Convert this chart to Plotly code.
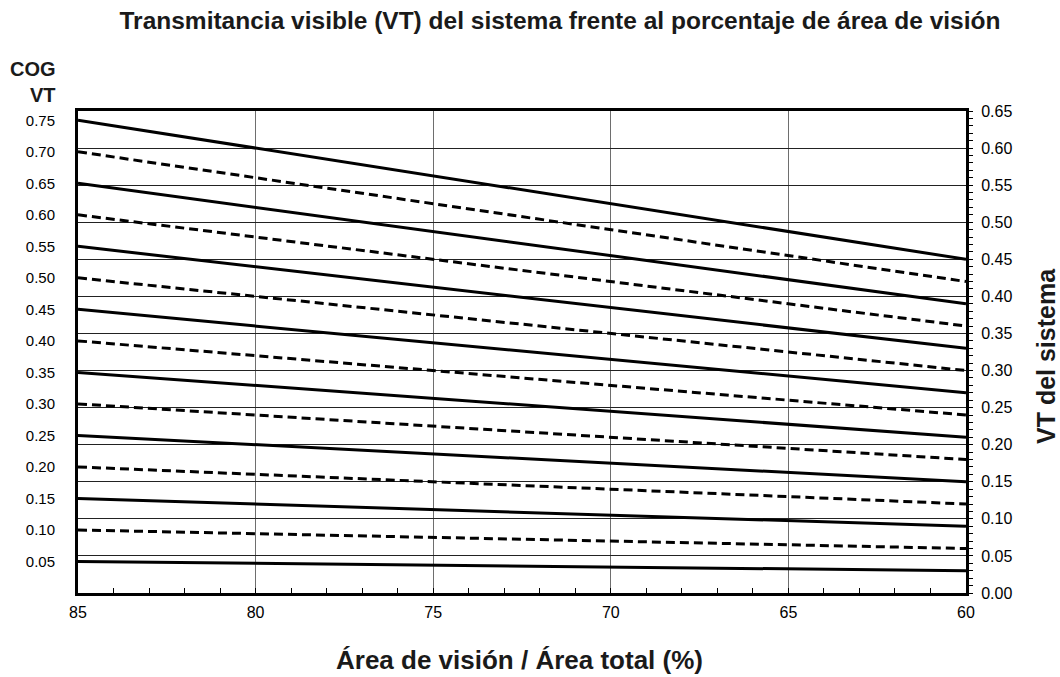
import plotly.graph_objects as go

# Area de vision / area total (%) - endpoints of each straight line
x_pts = [85, 60]
# COG VT of each line (left axis labels)
cog_vt = [0.75, 0.70, 0.65, 0.60, 0.55, 0.50, 0.45, 0.40, 0.35, 0.30, 0.25, 0.20, 0.15, 0.10, 0.05]
# VT del sistema read at x=85 and x=60 for each line
vt_at_85 = [0.6375, 0.595, 0.5525, 0.51, 0.4675, 0.425, 0.3825, 0.34, 0.2975, 0.255, 0.2125, 0.17, 0.1275, 0.085, 0.0425]
vt_at_60 = [0.45, 0.42, 0.39, 0.36, 0.33, 0.30, 0.27, 0.24, 0.21, 0.18, 0.15, 0.12, 0.09, 0.06, 0.03]
line_dash = ["solid", "dash"] * 7 + ["solid"]

x_ticks = [85, 80, 75, 70, 65, 60]
left_ticks = [0.75, 0.70, 0.65, 0.60, 0.55, 0.50, 0.45, 0.40, 0.35, 0.30, 0.25, 0.20, 0.15, 0.10, 0.05]
right_ticks = [0.65, 0.60, 0.55, 0.50, 0.45, 0.40, 0.35, 0.30, 0.25, 0.20, 0.15, 0.10, 0.05, 0.00]

FONT = "Liberation Sans, Arial, sans-serif"
W, H = 1060, 677
L, R, T, B = 78, 94, 111, 84
PW, PH = W - L - R, H - T - B

fig = go.Figure()
for c, a, b, d in zip(cog_vt, vt_at_85, vt_at_60, line_dash):
    fig.add_trace(go.Scatter(
        x=x_pts, y=[a, b], mode="lines", yaxis="y2",
        line=dict(color="black", width=3, dash="9px,5px" if d == "dash" else "solid"),
        name=f"COG VT {c:.2f}", showlegend=False, hoverinfo="skip"))
# invisible trace so the left (COG VT) axis is drawn
fig.add_trace(go.Scatter(x=[85], y=[0.05], mode="markers", marker=dict(opacity=0),
                         showlegend=False, hoverinfo="skip", yaxis="y"))

fig.update_layout(
    width=W, height=H,
    margin=dict(l=L, r=R, t=T, b=B),
    paper_bgcolor="white", plot_bgcolor="white",
    font=dict(family=FONT, color="black", size=15),
    title=dict(text="<b>Transmitancia visible (VT) del sistema frente al porcentaje de área de visión</b>",
               x=560 / W, xanchor="center", y=1 - 20 / H, yanchor="middle",
               font=dict(size=24.5, family=FONT, color="#1a1a1a")),
    xaxis=dict(range=[85, 60], tickvals=x_ticks, ticktext=[str(v) for v in x_ticks],
               showgrid=True, gridcolor="#6e6e6e", gridwidth=1,
               showline=True, linecolor="black", linewidth=3, mirror=True,
               ticks="inside", ticklen=5, tickcolor="black", tickwidth=1,
               minor=dict(dtick=1, ticks="inside", ticklen=5, tickcolor="black", tickwidth=1, showgrid=False),
               tickfont=dict(size=16), zeroline=False, ticklabelstandoff=3),
    yaxis=dict(range=[0, 0.65 / 0.85], tickvals=left_ticks, ticktext=[f"{v:.2f}" for v in left_ticks],
               showgrid=False, zeroline=False,
               showline=True, linecolor="black", linewidth=3, mirror=True,
               ticks="", tickfont=dict(size=15), ticklabelstandoff=17),
    yaxis2=dict(range=[0, 0.65], overlaying="y", side="right",
                tickvals=right_ticks, ticktext=[f"{v:.2f}" for v in right_ticks],
                showgrid=True, gridcolor="#222222", gridwidth=1, zeroline=False,
                showline=True, linecolor="black", linewidth=3,
                ticks="outside", ticklen=4, tickcolor="black", tickwidth=1,
                minor=dict(dtick=0.01, tick0=0, ticks="outside", ticklen=4, tickcolor="black", tickwidth=1, showgrid=False),
                tickfont=dict(size=16), ticklabelstandoff=5),
)

fig.add_annotation(text="<b>COG<br>VT</b>", xref="paper", yref="paper",
                   x=-(L - 58) / PW, y=1 + (T - 56) / PH, xanchor="right", yanchor="top",
                   align="right", showarrow=False, font=dict(size=20, family=FONT, color="#1a1a1a"))
fig.add_annotation(text="<b>Área de visión / Área total (%)</b>", xref="paper", yref="paper",
                   x=(519 - L) / PW, y=-(660 - (T + PH)) / PH, xanchor="center", yanchor="middle",
                   showarrow=False, font=dict(size=26, family=FONT, color="#1a1a1a"))
fig.add_annotation(text="<b>VT del sistema</b>", xref="paper", yref="paper",
                   x=1 + (1046 - (L + PW)) / PW, y=((T + PH) - 356) / PH, xanchor="center", yanchor="middle",
                   textangle=-90, showarrow=False, font=dict(size=25, family=FONT, color="#1a1a1a"))

fig.write_html("out.html", config={"displayModeBar": False},
               post_script="document.body.style.margin='0';document.body.style.padding='0';")
